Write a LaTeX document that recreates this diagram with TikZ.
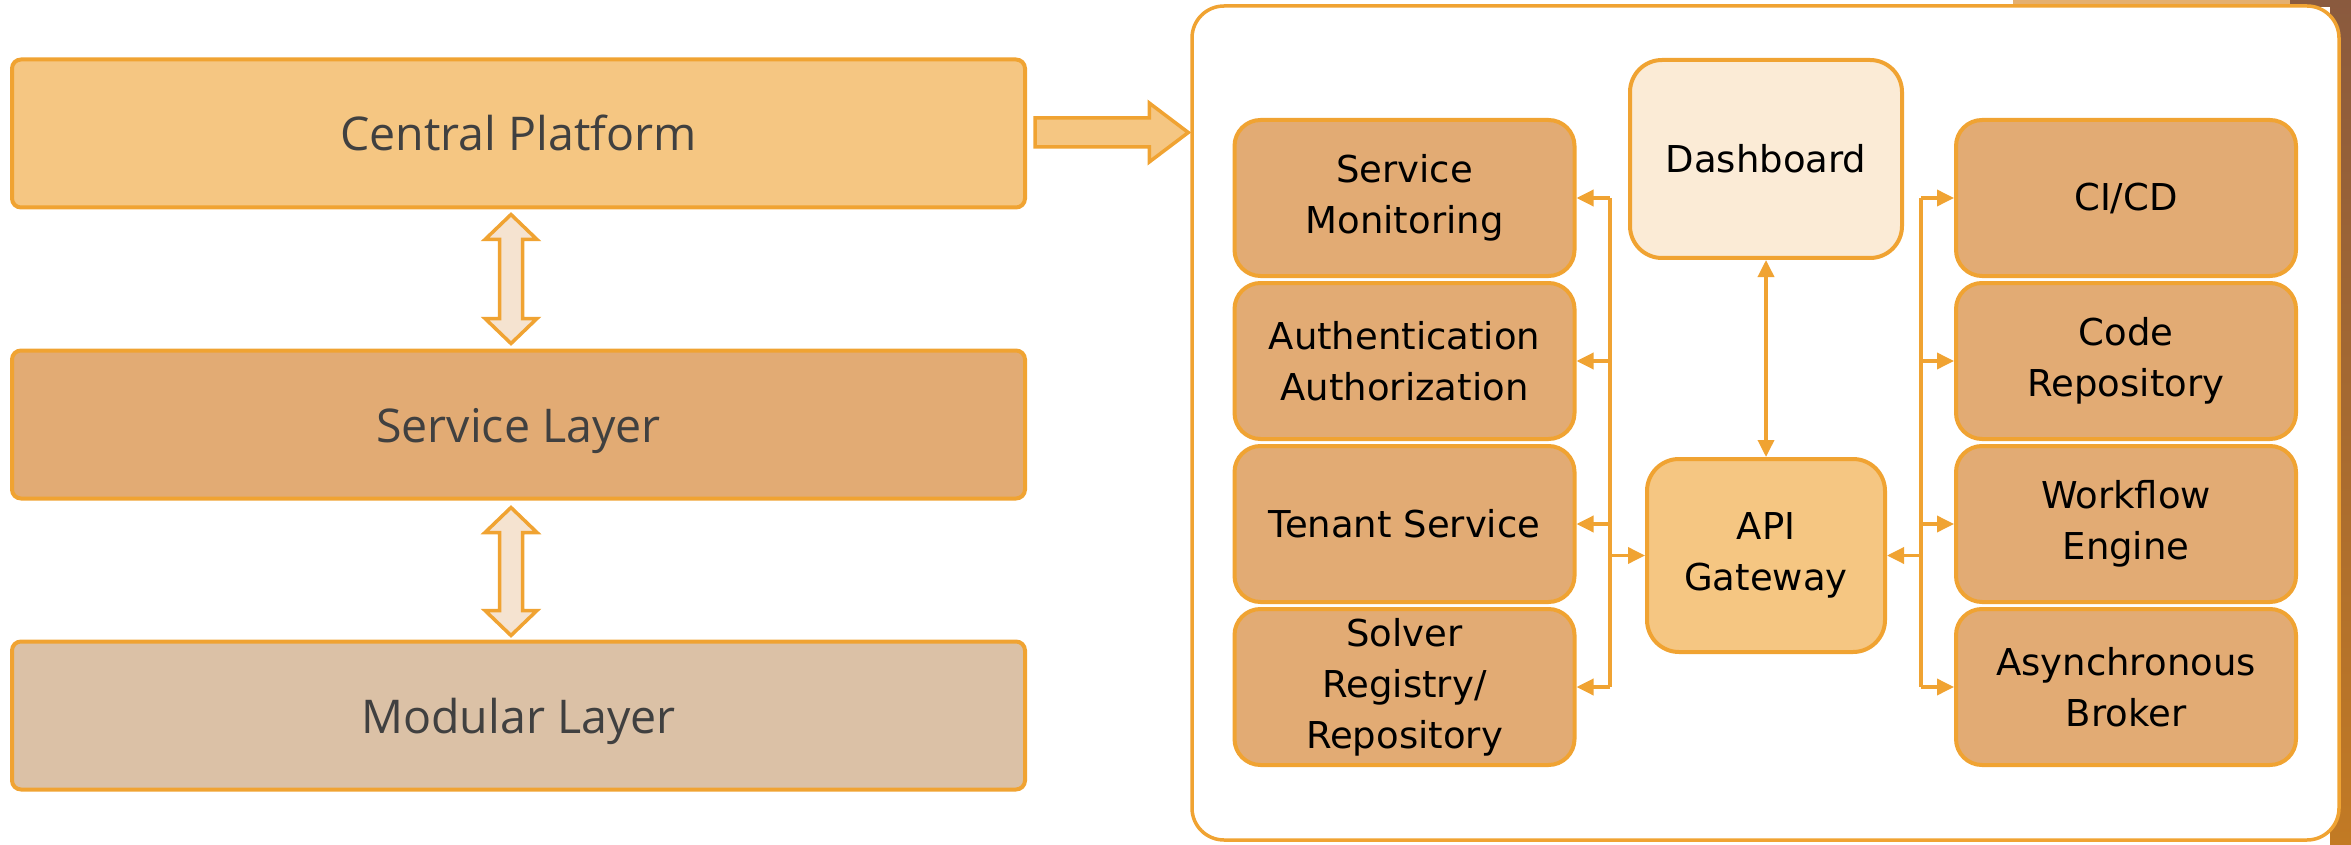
\documentclass[tikz,border=0pt]{standalone}
\usepackage{fontspec}
\setmainfont{DejaVu Sans}
\newfontfamily\layerfont{Open Sans}
\usetikzlibrary{arrows.meta,calc}

\definecolor{edge}{HTML}{F0A332}
\definecolor{central}{HTML}{F5C682}
\definecolor{service}{HTML}{E2AB74}
\definecolor{modular}{HTML}{DBC1A6}
\definecolor{dashfill}{HTML}{FBEBD6}
\definecolor{linkfill}{HTML}{F5E3D0}
\definecolor{layertext}{HTML}{404040}
\definecolor{brownA}{HTML}{8A5A3E}
\definecolor{brownB}{HTML}{C27A24}
\definecolor{tan}{HTML}{E4B070}

\tikzset{
  layer/.style={draw=edge, line width=4pt, rounded corners=9pt,
    minimum width=1013pt, minimum height=148pt,
    text height=35pt, text depth=0pt,
    font=\layerfont\fontsize{46.5}{56}\selectfont, text=layertext},
  module/.style={draw=edge, line width=4pt, rounded corners=26pt, fill=service,
    minimum width=340pt, minimum height=156pt, align=center,
    font=\fontsize{37}{51}\selectfont, text=black},
  hub/.style={draw=edge, line width=4pt, rounded corners=32pt, align=center,
    font=\fontsize{37}{51}\selectfont, text=black},
  blockarrow/.style={draw=edge, line width=3.5pt, line join=miter},
  link/.style={draw=edge, line width=3.5pt},
  tip/.style={-{Triangle[length=17pt,width=16pt]}, draw=edge, line width=3.5pt},
  twotip/.style={{Triangle[length=17pt,width=16pt]}-{Triangle[length=17pt,width=16pt]},
    draw=edge, line width=3.5pt},
}

% vertical two-headed block arrow between two anchor points
\newcommand\layerlink[2]{%
  \path[blockarrow, fill=linkfill] let \p1=(#1), \p2=(#2) in
    (\x1,\y1) -- (\x1+26pt,\y1-25pt) -- (\x1+11.5pt,\y1-25pt)
    -- (\x1+11.5pt,\y2+25pt) -- (\x1+26pt,\y2+25pt) -- (\x1,\y2)
    -- (\x1-26pt,\y2+25pt) -- (\x1-11.5pt,\y2+25pt)
    -- (\x1-11.5pt,\y1-25pt) -- (\x1-26pt,\y1-25pt) -- cycle;}

\begin{document}
\begin{tikzpicture}[x=1pt, y=-1pt]
\useasboundingbox (0,0) rectangle (2351,845);

% backdrop showing at the right and top edges
\shade[top color=brownA, bottom color=brownB] (2330,0) rectangle (2351,845);
\fill[tan] (2013,0) rectangle (2290,7);
\fill[brownA] (2290,0) rectangle (2351,7);

% platform layers
\node[layer, fill=central] (cp) at (518.5,133.5) {Central Platform};
\node[layer, fill=service] (sl) at (518.5,424.5) {Service Layer};
\node[layer, fill=modular] (ml) at (518.5,715.5) {Modular Layer};

\coordinate (t1) at ($(cp.south)+(-7.5,5)$);
\coordinate (b1) at ($(sl.north)+(-7.5,-5)$);
\coordinate (t2) at ($(sl.south)+(-7.5,7)$);
\coordinate (b2) at ($(ml.north)+(-7.5,-4)$);
\layerlink{t1}{b1}
\layerlink{t2}{b2}

% detail panel
\node[draw=edge, line width=3.5pt, rounded corners=32pt, fill=white,
      minimum width=1147pt, minimum height=834pt] (panel) at (1765.5,423) {};

% arrow from the central platform into the panel
\path[blockarrow, fill=central] let \p1=($(cp.east)+(8,-1)$),
    \p2=($(panel.west |- cp.east)+(-2,-1)$) in
  (\x1,\y1+14.5pt) -- (\x2-39pt,\y1+14.5pt) -- (\x2-39pt,\y1+29.5pt)
  -- (\x2,\y1) -- (\x2-39pt,\y1-29.5pt) -- (\x2-39pt,\y1-14.5pt)
  -- (\x1,\y1-14.5pt) -- cycle;

% hubs
\node[hub, fill=dashfill, minimum width=272pt, minimum height=198pt]
  (dash) at (1766,159) {Dashboard};
\node[hub, fill=central, minimum width=238pt, minimum height=193pt]
  (api) at (1766,555.5) {API\\Gateway};

% platform services
\node[module] (mon)  at (1404.5,198) {Service\\Monitoring};
\node[module] (auth) at (1404.5,361) {Authentication\\Authorization};
\node[module] (ten)  at (1404.5,524) {Tenant Service};
\node[module] (sol)  at (1404.5,687) {Solver\\Registry/\\Repository};

% delivery and execution services
\node[module] (ci)   at (2126,198) {CI/CD};
\node[module] (code) at (2126,361) {Code\\Repository};
\node[module] (wf)   at (2126,524) {Workflow\\Engine};
\node[module] (ab)   at (2126,687) {Asynchronous\\Broker};

% buses
\coordinate (lbus) at (1610,0);
\coordinate (rbus) at (1921,0);

\draw[link] (lbus |- mon.east) -- (lbus |- sol.east);
\foreach \m in {mon,auth,ten,sol}
  \draw[tip] (lbus |- \m.east) -- (\m.east);
\draw[tip] (lbus |- api.west) -- (api.west);

\draw[link] (rbus |- ci.west) -- (rbus |- ab.west);
\foreach \m in {ci,code,wf,ab}
  \draw[tip] (rbus |- \m.west) -- (\m.west);
\draw[tip] (rbus |- api.east) -- (api.east);

\draw[twotip] (dash.south) -- (api.north);
\end{tikzpicture}
\end{document}
